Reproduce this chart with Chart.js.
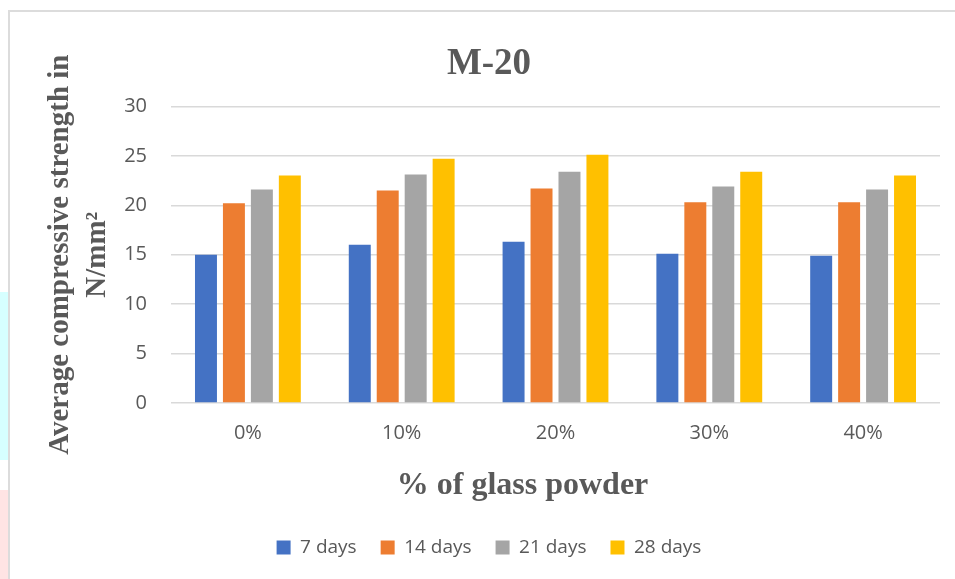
<!DOCTYPE html>
<html>
<head>
<meta charset="utf-8">
<script src="https://cdn.jsdelivr.net/npm/chart.js@4/dist/chart.umd.min.js"></script>
<style>
  html, body { margin: 0; padding: 0; width: 955px; height: 579px; overflow: hidden; background: #ffffff; }
  .strip-cyan { position: absolute; left: 0; top: 292px; width: 8px; height: 168px; background: #d6ffff; }
  .strip-pink { position: absolute; left: 0; top: 490px; width: 8px; height: 89px; background: #ffe4e4; }
  .frame { position: absolute; left: 8px; top: 10px; width: 1000px; height: 600px;
           border-left: 2px solid #dcdcdc; border-top: 2px solid #dcdcdc; background: #ffffff; }
  .wrap { position: absolute; left: 0; top: 0; width: 955px; height: 579px; }
</style>
</head>
<body>
<div class="strip-cyan"></div>
<div class="strip-pink"></div>
<div class="frame"></div>
<div class="wrap"><canvas id="chart" width="955" height="579"></canvas></div>
<script>
// Glass powder replacement levels
const categories = ['0%', '10%', '20%', '30%', '40%'];

// Average compressive strength (N/mm²) by curing age
const days7  = [15.0, 16.0, 16.3, 15.1, 14.9];
const days14 = [20.2, 21.5, 21.7, 20.3, 20.3];
const days21 = [21.6, 23.1, 23.4, 21.9, 21.6];
const days28 = [23.0, 24.7, 25.1, 23.4, 23.0];

const seriesNames = ['7 days', '14 days', '21 days', '28 days'];
const yTicks = [0, 5, 10, 15, 20, 25, 30];
const xAxisTitle = '% of glass powder';

const colors = ['#4472C4', '#ED7D31', '#A5A5A5', '#FFC000'];
const textGrey = '#595959';
const sans = '"Open Sans", "Liberation Sans", sans-serif';
const serif = '"Liberation Serif", "Times New Roman", serif';

const seriesData = [days7, days14, days21, days28];

// x-axis title block: font, reserved height and a leftward nudge from the plot centre
const xTitleFont = { size: 32, lineHeight: 36 };
const xTitleBlock = 51;
const xTitleNudge = 33;

const xTitlePlugin = {
  id: 'xTitle',
  afterDraw(chart) {
    const { ctx, chartArea, scales } = chart;
    ctx.save();
    ctx.font = `bold ${xTitleFont.size}px ${serif}`;
    ctx.fillStyle = textGrey;
    ctx.textAlign = 'center';
    ctx.textBaseline = 'middle';
    const cx = (chartArea.left + chartArea.right) / 2 - xTitleNudge;
    const cy = scales.x.bottom - 10 - xTitleFont.lineHeight / 2;
    ctx.fillText(xAxisTitle, cx, cy);
    ctx.restore();
  }
};

new Chart(document.getElementById('chart'), {
  type: 'bar',
  data: {
    labels: categories,
    datasets: seriesNames.map((name, i) => ({
      label: name,
      data: seriesData[i],
      backgroundColor: colors[i],
      borderWidth: 0,
      categoryPercentage: 0.727,
      barPercentage: 0.786
    }))
  },
  plugins: [xTitlePlugin],
  options: {
    responsive: false,
    animation: false,
    layout: { padding: { left: 38, right: 15, top: 0, bottom: 12 } },
    plugins: {
      title: {
        display: true,
        text: 'M-20',
        color: textGrey,
        font: { family: serif, size: 37, weight: 'bold', lineHeight: 1.2 },
        padding: { top: 42, bottom: 20 }
      },
      legend: {
        position: 'bottom',
        labels: {
          color: textGrey,
          font: { family: sans, size: 19 },
          boxWidth: 14,
          boxHeight: 14,
          padding: 24
        }
      },
      tooltip: { enabled: false }
    },
    scales: {
      x: {
        afterFit: (scale) => { scale.height += xTitleBlock; },
        grid: { display: false, drawTicks: false },
        border: { display: false },
        ticks: { color: textGrey, font: { family: sans, size: 20 }, padding: 18 }
      },
      y: {
        min: 0,
        max: 30,
        afterBuildTicks: (scale) => { scale.ticks = yTicks.map(v => ({ value: v })); },
        afterFit: (scale) => { scale.width = 133; },
        grid: { color: '#d9d9d9', lineWidth: 1.5, drawTicks: false },
        border: { display: false },
        ticks: { color: textGrey, font: { family: sans, size: 20 }, padding: 24 },
        title: {
          display: true,
          text: ['Average compressive strength in', 'N/mm²'],
          color: textGrey,
          font: { family: serif, size: 29, weight: 'bold', lineHeight: 1.28 },
          padding: { top: 4, bottom: 0 }
        }
      }
    }
  }
});
</script>
</body>
</html>
